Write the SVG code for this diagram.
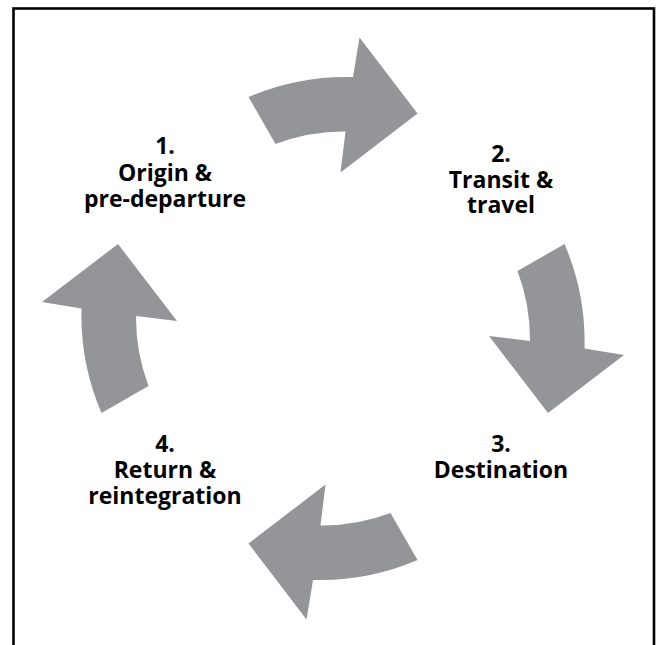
<svg xmlns="http://www.w3.org/2000/svg" xmlns:xlink="http://www.w3.org/1999/xlink" width="657" height="645" viewBox="0 0 657 645">
<style>
.lbl{font-family:"Open Sans","Liberation Sans",sans-serif;font-weight:700;font-size:23px;fill:#000;text-anchor:middle}
.arr{fill:#939598}
</style>
<defs>
<path id="arrow" class="arr" d="M564.5,244 A247,247 0 0 1 584.5,348.5 L624,355 L548,413 L489,336 L530,341 A194,194 0 0 0 517.5,271 Z"/>
</defs>
<rect x="0" y="0" width="657" height="645" fill="#fff"/>
<rect x="13.5" y="8.5" width="640.5" height="700" fill="none" stroke="#000" stroke-width="2.6"/>
<g id="connectors">
<use xlink:href="#arrow" transform="rotate(-90 333 328.5)"/>
<use xlink:href="#arrow"/>
<use xlink:href="#arrow" transform="rotate(90 333 328.5)"/>
<use xlink:href="#arrow" transform="rotate(180 333 328.5)"/>
</g>
<g id="node1"><text class="lbl" x="165" y="154">1.</text><text class="lbl" x="165" y="180.5">Origin &amp;</text><text class="lbl" x="165" y="207">pre-departure</text></g>
<g id="node2"><text class="lbl" x="501" y="162">2.</text><text class="lbl" x="501" y="188">Transit &amp;</text><text class="lbl" x="501" y="213">travel</text></g>
<g id="node3"><text class="lbl" x="501" y="452">3.</text><text class="lbl" x="501" y="478">Destination</text></g>
<g id="node4"><text class="lbl" x="165" y="452">4.</text><text class="lbl" x="165" y="478">Return &amp;</text><text class="lbl" x="165" y="504">reintegration</text></g>
</svg>
